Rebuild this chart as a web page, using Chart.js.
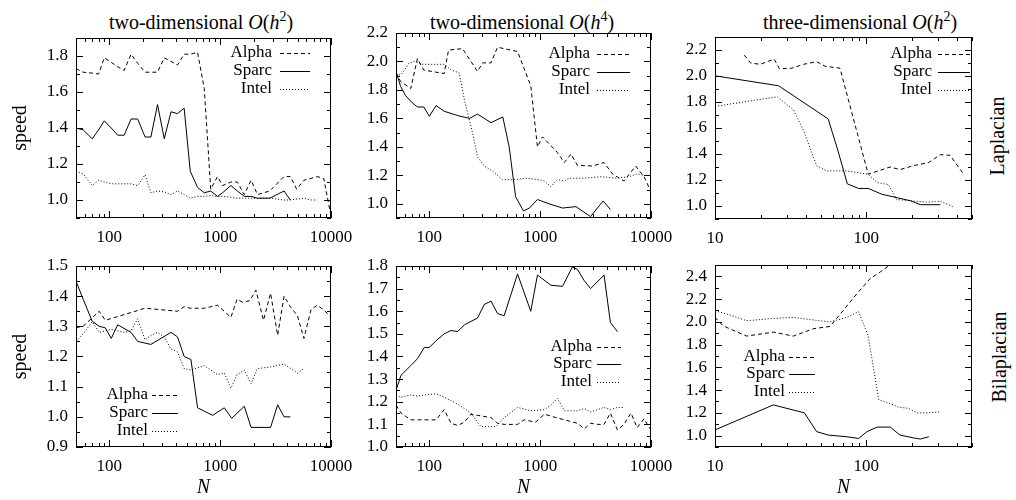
<!DOCTYPE html>
<html>
<head>
<meta charset="utf-8">
<script src="https://cdn.jsdelivr.net/npm/chart.js@4.4.1/dist/chart.umd.min.js"></script>
<style>
body { margin: 0; background: #fff; width: 1016px; height: 500px; position: relative; overflow: hidden; font-family: "Liberation Serif", serif; color: #000; }
canvas { position: absolute; }
.title { position: absolute; width: 300px; text-align: center; font-size: 20px; line-height: 20px; white-space: nowrap; }
.title sup { font-size: 14px; line-height: 0; }
.row { position: absolute; font-size: 20px; line-height: 20px; white-space: nowrap; transform: translate(-50%, -50%) rotate(-90deg); }
</style>
</head>
<body>
<div class="title" style="left:51px; top:12px">two-dimensional <i>O</i>(<i>h</i><sup>2</sup>)</div>
<div class="title" style="left:372px; top:12px">two-dimensional <i>O</i>(<i>h</i><sup>4</sup>)</div>
<div class="title" style="left:710px; top:12px">three-dimensional <i>O</i>(<i>h</i><sup>2</sup>)</div>
<div class="row" style="left:997px; top:136px">Laplacian</div>
<div class="row" style="left:999px; top:357px">Bilaplacian</div>
<script>
// tick labels
const xTicks2d = [100, 1000, 10000];
const xTicks3d = [10, 100];
const yTicksLap2 = [1.0, 1.2, 1.4, 1.6, 1.8];
const yTicksLap4 = [1.0, 1.2, 1.4, 1.6, 1.8, 2.0, 2.2];
const yTicksLap3d = [1.0, 1.2, 1.4, 1.6, 1.8, 2.0, 2.2];
const yTicksBil2 = [0.9, 1.0, 1.1, 1.2, 1.3, 1.4, 1.5];
const yTicksBil4 = [1.0, 1.1, 1.2, 1.3, 1.4, 1.5, 1.6, 1.7, 1.8];
const yTicksBil3d = [1.0, 1.2, 1.4, 1.6, 1.8, 2.0, 2.2, 2.4];

const seriesNames = ['Alpha', 'Sparc', 'Intel'];

// Laplacian, two-dimensional O(h^2)
const lap2N = [50, 58, 70, 80, 90, 104, 119, 136, 157, 180, 210, 237, 272, 313, 360, 412, 473, 537, 625, 718, 822, 945, 1050, 1250, 1430, 1650, 1900, 2170, 2800, 3770, 4300, 4900, 5700, 6600, 7500, 8600, 10000];
const lap2Alpha = [1.73, 1.71, 1.705, 1.70, 1.79, 1.765, 1.74, 1.72, 1.81, 1.76, 1.71, 1.71, 1.71, 1.79, 1.77, 1.75, 1.81, 1.81, 1.82, 1.62, 1.06, 1.13, 1.08, 1.10, 1.10, 1.03, 1.11, 1.03, 1.05, 1.13, 1.13, 1.06, 1.11, 1.12, 1.13, 1.12, 0.91];
const lap2Sparc = [1.40, 1.39, 1.34, 1.39, 1.44, 1.40, 1.36, 1.36, 1.45, 1.45, 1.35, 1.35, 1.53, 1.34, 1.49, 1.48, 1.51, 1.16, 1.07, 1.04, 1.05, 1.02, 1.04, 1.08, 1.05, 1.02, 1.02, 1.01, 1.01, 1.05, 1.00];
const lap2Intel = [1.16, 1.145, 1.08, 1.11, 1.10, 1.09, 1.09, 1.09, 1.09, 1.08, 1.14, 1.04, 1.05, 1.045, 1.03, 1.05, 1.03, 1.01, 1.02, 1.02, 1.025, 1.02, 1.02, 1.015, 1.01, 1.01, 1.01, 1.01, 1.01, 1.00, 1.00, 1.005, 1.01, 1.00, 1.00];

// Laplacian, two-dimensional O(h^4)
const lap4AlphaN = [50, 55, 68, 78, 89, 136, 149, 199, 272, 302, 360, 412, 473, 625, 822, 945, 1050, 1430, 1650, 1900, 2170, 2960, 3770, 4480, 5700, 7270, 8650, 9800];
const lap4Alpha = [1.92, 1.86, 1.81, 2.02, 1.94, 1.915, 2.08, 2.09, 1.93, 1.99, 1.99, 2.10, 2.09, 2.07, 1.83, 1.40, 1.47, 1.36, 1.29, 1.35, 1.27, 1.265, 1.29, 1.21, 1.16, 1.265, 1.19, 1.10];
const lap4SparcN = [50, 55, 61, 70, 78, 89, 100, 115, 136, 180, 230, 272, 360, 460, 525, 600, 706, 800, 945, 1200, 1590, 2100, 2850, 3700, 4300];
const lap4Sparc = [1.93, 1.825, 1.76, 1.71, 1.68, 1.68, 1.615, 1.69, 1.65, 1.62, 1.60, 1.63, 1.57, 1.61, 1.40, 1.05, 0.95, 0.97, 1.03, 1.00, 0.97, 0.98, 0.91, 1.02, 0.96];
const lap4IntelN = [50, 56, 66, 73, 87, 107, 136, 157, 186, 207, 245, 272, 313, 370, 457, 605, 740, 945, 1090, 1250, 1430, 1650, 1830, 2400, 3600, 4800, 6300, 7500, 8650];
const lap4Intel = [1.90, 1.91, 1.99, 2.00, 1.98, 1.98, 1.98, 1.94, 1.92, 1.73, 1.50, 1.33, 1.265, 1.23, 1.17, 1.17, 1.18, 1.17, 1.16, 1.12, 1.17, 1.16, 1.18, 1.18, 1.19, 1.18, 1.19, 1.21, 1.20];

// Laplacian, three-dimensional O(h^2)
const lap3AlphaN = [15.6, 17.2, 19.9, 24.6, 26.7, 32.2, 38.5, 47, 53.5, 67, 103, 144, 167, 205, 259, 309, 358, 440];
const lap3Alpha = [2.16, 2.10, 2.09, 2.13, 2.055, 2.06, 2.09, 2.11, 2.075, 2.06, 1.245, 1.30, 1.28, 1.31, 1.335, 1.395, 1.39, 1.245];
const lap3SparcN = [10.2, 26.3, 56, 65, 75, 89, 103, 127, 197, 228, 309];
const lap3Sparc = [2.00, 1.925, 1.67, 1.425, 1.17, 1.135, 1.135, 1.09, 1.04, 1.01, 1.01];
const lap3IntelN = [10.5, 25.8, 33, 38.5, 47, 55, 74, 103, 118, 140, 159, 197, 250, 309, 358, 380];
const lap3Intel = [1.77, 1.84, 1.74, 1.58, 1.31, 1.27, 1.27, 1.245, 1.18, 1.165, 1.05, 1.04, 1.03, 1.035, 1.005, 0.99];

// Bilaplacian, two-dimensional O(h^2)
const bil2AlphaN = [50, 58, 81, 92, 210, 412, 473, 537, 718, 945, 1250, 1420, 1590, 1850, 2100, 2460, 2850, 3300, 3770, 4300, 4980, 5700, 6600, 7500, 8600, 10000];
const bil2Alpha = [1.296, 1.30, 1.35, 1.32, 1.36, 1.35, 1.365, 1.36, 1.36, 1.37, 1.33, 1.39, 1.38, 1.385, 1.42, 1.32, 1.41, 1.27, 1.40, 1.365, 1.335, 1.26, 1.355, 1.37, 1.355, 1.33];
const bil2SparcN = [50, 58, 70, 81, 92, 104, 119, 157, 180, 237, 360, 412, 473, 545, 625, 855, 1090, 1270, 1650, 1900, 2850, 3300, 3770, 4300];
const bil2Sparc = [1.45, 1.39, 1.317, 1.30, 1.295, 1.26, 1.305, 1.28, 1.25, 1.24, 1.28, 1.265, 1.20, 1.19, 1.03, 1.005, 1.03, 0.995, 1.035, 0.965, 0.965, 1.04, 1.00, 1.00];
const bil2IntelN = [50, 58, 70, 81, 104, 137, 157, 180, 210, 237, 272, 313, 360, 412, 473, 545, 718, 945, 1090, 1250, 1420, 1650, 1900, 2170, 2800, 3770, 4980, 5700];
const bil2Intel = [1.25, 1.275, 1.315, 1.28, 1.29, 1.28, 1.285, 1.325, 1.255, 1.27, 1.28, 1.265, 1.225, 1.215, 1.16, 1.155, 1.17, 1.14, 1.145, 1.095, 1.14, 1.155, 1.11, 1.16, 1.165, 1.175, 1.145, 1.16];

// Bilaplacian, two-dimensional O(h^4)
const bil4AlphaN = [50, 55.5, 68, 100, 115, 136, 157, 180, 207, 237, 272, 360, 412, 473, 625, 718, 910, 1090, 1390, 2170, 2500, 2850, 3300, 3770, 4300, 4980, 5700, 6600, 7500, 8650, 9800];
const bil4Alpha = [1.185, 1.15, 1.12, 1.12, 1.12, 1.165, 1.105, 1.095, 1.11, 1.145, 1.14, 1.13, 1.105, 1.10, 1.10, 1.12, 1.11, 1.145, 1.13, 1.105, 1.08, 1.105, 1.10, 1.10, 1.15, 1.075, 1.10, 1.15, 1.085, 1.125, 1.08];
const bil4SparcN = [50, 55.5, 68, 78, 90, 100, 115, 136, 157, 180, 207, 272, 313, 360, 412, 473, 625, 822, 945, 1250, 1590, 1950, 2170, 2500, 2850, 3770, 4300, 4980];
const bil4Sparc = [1.25, 1.317, 1.36, 1.39, 1.44, 1.44, 1.47, 1.50, 1.515, 1.51, 1.54, 1.57, 1.63, 1.645, 1.59, 1.58, 1.765, 1.60, 1.76, 1.715, 1.71, 1.795, 1.785, 1.735, 1.70, 1.76, 1.55, 1.51];
const bil4IntelN = [50, 55.5, 68, 78, 90, 115, 136, 180, 237, 292, 340, 400, 473, 625, 822, 1090, 1250, 1430, 1650, 2170, 2500, 2850, 3770, 4300, 4980, 5700];
const bil4Intel = [1.23, 1.22, 1.23, 1.225, 1.23, 1.235, 1.22, 1.19, 1.15, 1.09, 1.09, 1.09, 1.13, 1.175, 1.16, 1.165, 1.185, 1.215, 1.16, 1.16, 1.17, 1.155, 1.175, 1.165, 1.175, 1.175];

// Bilaplacian, three-dimensional O(h^2)
const bil3AlphaN = [10, 11.3, 16.2, 24.3, 33, 44.7, 57.6, 74.5, 87, 106, 124, 150];
const bil3Alpha = [2.04, 1.965, 1.875, 1.91, 1.875, 1.94, 1.96, 2.14, 2.25, 2.38, 2.44, 2.52];
const bil3SparcN = [10, 24.3, 39, 47, 56, 74.5, 89, 101, 118, 144, 167, 205, 228, 259];
const bil3Sparc = [1.05, 1.27, 1.20, 1.035, 1.005, 0.99, 0.975, 1.035, 1.075, 1.075, 1.005, 0.98, 0.97, 0.99];
const bil3IntelN = [10.5, 11.9, 16.2, 24.3, 33, 42.5, 57.6, 74.5, 89, 103, 121, 141, 164, 190, 216, 253, 309];
const bil3Intel = [2.09, 2.07, 2.01, 2.03, 2.04, 2.02, 2.00, 2.04, 2.09, 1.875, 1.315, 1.285, 1.25, 1.24, 1.20, 1.20, 1.21];

const dashes = { Alpha: [4, 3], Sparc: [], Intel: [1, 2] };
const FONT = 'Liberation Serif';

// plot boxes in page pixels: left, top, right, bottom
const panels = [
    { plot: [76, 38, 331, 218], x: [50, 10000], xTicks: xTicks2d, y: [0.9, 1.9], yTicks: yTicksLap2,
      series: [[lap2N, lap2Alpha], [lap2N, lap2Sparc], [lap2N, lap2Intel]],
      key: { right: 272, from: 280, to: 310, rows: [53, 71, 89] }, leftCol: true, bottomRow: false },
    { plot: [396, 33, 651, 218], x: [50, 10000], xTicks: xTicks2d, y: [0.9, 2.2], yTicks: yTicksLap4,
      series: [[lap4AlphaN, lap4Alpha], [lap4SparcN, lap4Sparc], [lap4IntelN, lap4Intel]],
      key: { right: 590, from: 597, to: 630, rows: [54, 72, 90] }, leftCol: false, bottomRow: false },
    { plot: [715, 37, 972, 219], x: [10, 500], xTicks: xTicks3d, y: [0.9, 2.3], yTicks: yTicksLap3d,
      series: [[lap3AlphaN, lap3Alpha], [lap3SparcN, lap3Sparc], [lap3IntelN, lap3Intel]],
      key: { right: 932, from: 938, to: 970, rows: [54, 72, 90] }, leftCol: false, bottomRow: false },
    { plot: [76, 266, 331, 447], x: [50, 10000], xTicks: xTicks2d, y: [0.9, 1.5], yTicks: yTicksBil2,
      series: [[bil2AlphaN, bil2Alpha], [bil2SparcN, bil2Sparc], [bil2IntelN, bil2Intel]],
      key: { right: 148, from: 152, to: 178, rows: [395, 413, 431] }, leftCol: true, bottomRow: true },
    { plot: [396, 266, 651, 447], x: [50, 10000], xTicks: xTicks2d, y: [1.0, 1.8], yTicks: yTicksBil4,
      series: [[bil4AlphaN, bil4Alpha], [bil4SparcN, bil4Sparc], [bil4IntelN, bil4Intel]],
      key: { right: 592, from: 597, to: 621, rows: [347, 364, 382] }, leftCol: false, bottomRow: true },
    { plot: [715, 265, 972, 447], x: [10, 500], xTicks: xTicks3d, y: [0.9, 2.5], yTicks: yTicksBil3d,
      series: [[bil3AlphaN, bil3Alpha], [bil3SparcN, bil3Sparc], [bil3IntelN, bil3Intel]],
      key: { right: 785, from: 789, to: 815, rows: [357, 374, 392] }, leftCol: false, bottomRow: true }
];

function framePlugin(p, offX, offY){
    return {
        id: 'frame',
        afterDraw: function(chart){
            const ctx = chart.ctx;
            const a = chart.chartArea;
            const xs = chart.scales.x, ys = chart.scales.y;
            ctx.save();
            ctx.strokeStyle = '#000';
            ctx.lineWidth = 1;
            ctx.setLineDash([]);

            // inward ticks on all four sides
            ctx.beginPath();
            const lo = Math.floor(Math.log10(p.x[0])), hi = Math.ceil(Math.log10(p.x[1]));
            for(let d = lo; d <= hi; d++){
                for(let k = 1; k <= 9; k++){
                    const v = k * Math.pow(10, d);
                    if(v < p.x[0] || v > p.x[1]) continue;
                    const px = Math.round(xs.getPixelForValue(v)) + 0.5;
                    const len = k == 1 ? 7 : 4;
                    ctx.moveTo(px, a.bottom); ctx.lineTo(px, a.bottom - len);
                    ctx.moveTo(px, a.top); ctx.lineTo(px, a.top + len);
                }
            }
            const half = (p.yTicks[1] - p.yTicks[0]) / 2;
            let v = p.yTicks[0];
            while(v - half >= p.y[0] - 1e-9) v -= half;
            for(; v <= p.y[1] + 1e-9; v += half){
                const major = p.yTicks.some(t => Math.abs(t - v) < 1e-6);
                const py = Math.round(ys.getPixelForValue(v)) + 0.5;
                const len = major ? 7 : 4;
                ctx.moveTo(a.left, py); ctx.lineTo(a.left + len, py);
                ctx.moveTo(a.right, py); ctx.lineTo(a.right - len, py);
            }
            ctx.stroke();
            ctx.strokeRect(a.left + 0.5, a.top + 0.5, a.right - a.left - 1, a.bottom - a.top - 1);

            // gnuplot style key: label then line sample
            ctx.font = '17px "' + FONT + '"';
            ctx.fillStyle = '#000';
            ctx.textAlign = 'right';
            ctx.textBaseline = 'middle';
            chart.data.datasets.forEach(function(ds, i){
                const y = p.key.rows[i] - offY;
                ctx.fillText(ds.label, p.key.right - offX, y);
                ctx.setLineDash(ds.borderDash);
                ctx.beginPath();
                ctx.moveTo(p.key.from - offX, y + 0.5);
                ctx.lineTo(p.key.to - offX, y + 0.5);
                ctx.stroke();
            });
            ctx.restore();
        }
    };
}

function drawPanel(p){
    const yw = p.leftCol ? 76 : 60;
    const padTop = 8, padRight = 24;
    const xh = p.bottomRow ? 53 : 32;
    const L = p.plot[0], T = p.plot[1], R = p.plot[2], B = p.plot[3];
    const offX = L - yw, offY = T - padTop;

    const canvas = document.createElement('canvas');
    canvas.width = yw + (R - L) + padRight;
    canvas.height = padTop + (B - T) + xh;
    canvas.style.left = offX + 'px';
    canvas.style.top = offY + 'px';
    document.body.appendChild(canvas);

    const datasets = p.series.map(function(s, i){
        return {
            label: seriesNames[i],
            data: s[1].map((val, j) => ({ x: s[0][j], y: val })),
            borderColor: '#000',
            borderWidth: 1,
            borderDash: dashes[seriesNames[i]],
            pointRadius: 0,
            tension: 0,
            fill: false
        };
    });

    new Chart(canvas, {
        type: 'line',
        data: { datasets: datasets },
        options: {
            responsive: false,
            animation: false,
            devicePixelRatio: 1,
            layout: { padding: { left: 0, top: padTop, right: padRight, bottom: 0 }, autoPadding: false },
            plugins: { legend: { display: false }, tooltip: { enabled: false } },
            scales: {
                x: {
                    type: 'logarithmic', min: p.x[0], max: p.x[1],
                    grid: { display: false, drawTicks: false }, border: { display: false },
                    afterBuildTicks: s => { s.ticks = p.xTicks.map(v => ({ value: v })); },
                    afterFit: s => { s.height = xh; s.paddingLeft = 0; s.paddingRight = 0; },
                    ticks: { font: { family: FONT, size: 17 }, color: '#000', padding: 9, maxRotation: 0, autoSkip: false,
                             callback: v => String(v) },
                    title: { display: p.bottomRow, text: 'N', color: '#000',
                             font: { family: FONT, size: 20, style: 'italic' }, padding: { top: 0, bottom: 0 } }
                },
                y: {
                    type: 'linear', min: p.y[0], max: p.y[1],
                    grid: { display: false, drawTicks: false }, border: { display: false },
                    afterBuildTicks: s => { s.ticks = p.yTicks.map(v => ({ value: v })); },
                    afterFit: s => { s.width = yw; s.paddingTop = 0; s.paddingBottom = 0; },
                    ticks: { font: { family: FONT, size: 17 }, color: '#000', padding: 8, autoSkip: false,
                             callback: v => v.toFixed(1) },
                    title: { display: p.leftCol, text: 'speed', color: '#000',
                             font: { family: FONT, size: 20 }, padding: { top: 9, bottom: 0 } }
                }
            }
        },
        plugins: [framePlugin(p, offX, offY)]
    });
}

Chart.defaults.font.family = FONT;
Promise.all([
    document.fonts.load('17px "' + FONT + '"'),
    document.fonts.load('italic 20px "' + FONT + '"')
]).catch(function(){}).then(function(){
    panels.forEach(drawPanel);
});
</script>
</body>
</html>
